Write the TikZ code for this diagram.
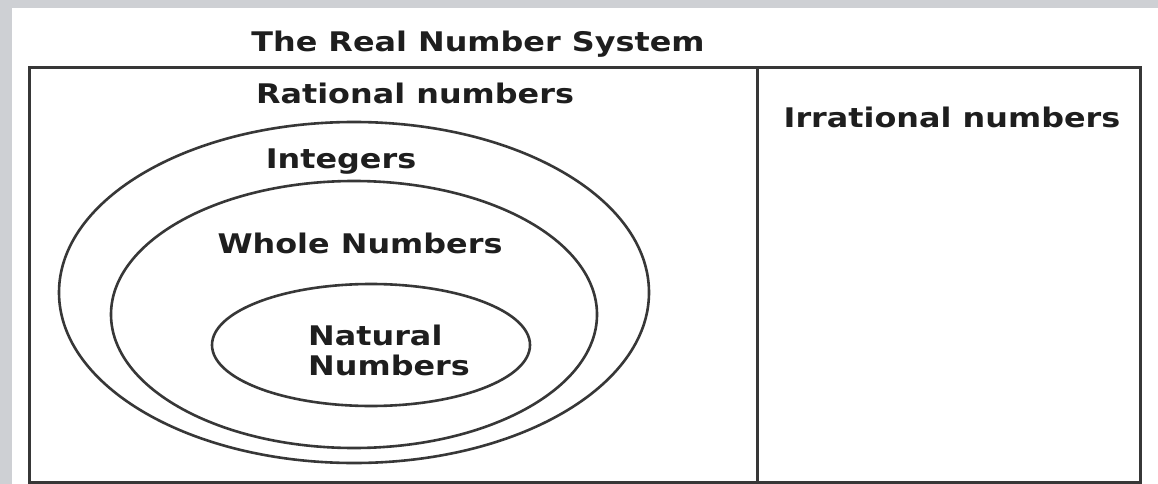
\documentclass[tikz,border=0pt]{standalone}
\usepackage{fontspec}
\setmainfont{DejaVu Sans}[FakeStretch=1.18]
\usetikzlibrary{shapes.geometric}
\definecolor{marble}{RGB}{206,208,212}
\definecolor{ink}{RGB}{30,30,30}
\definecolor{linec}{RGB}{55,55,55}
\tikzset{
  lbl/.style={font=\fontsize{27}{32}\selectfont\bfseries, text=ink, inner sep=0pt},
  ring/.style={draw=linec, line width=2.6pt},
  frame/.style={draw=linec, line width=3pt}
}
\begin{document}
\begin{tikzpicture}[x=1pt,y=-1pt]
\fill[marble] (0,0) rectangle (1158,484);
\useasboundingbox (0,0) rectangle (1158,484);
\fill[white] (12,8) rectangle (1158,484);
% frame
\draw[frame] (29,68) rectangle (1140,482);
\draw[frame] (757,68) -- (757,482);
% ellipses
\draw[ring] (354,292.5) ellipse [x radius=295, y radius=170.5];
\draw[ring] (354,314.5) ellipse [x radius=243, y radius=133.5];
\draw[ring] (371,345) ellipse [x radius=159, y radius=61];
% labels
\node[lbl, anchor=base] (title) at (478,52) {The Real Number System};
\node[lbl, anchor=base] (rat) at (415,103) {Rational numbers};
\node[lbl, anchor=base] (irr) at (952,128) {Irrational numbers};
\node[lbl, anchor=base] (int) at (341,168) {Integers};
\node[lbl, anchor=base] (whole) at (360,253) {Whole Numbers};
\node[lbl, anchor=base west] (nat) at (308,345) {Natural};
\node[lbl, anchor=base west] (nat2) at (308,375) {Numbers};
\end{tikzpicture}
\end{document}
